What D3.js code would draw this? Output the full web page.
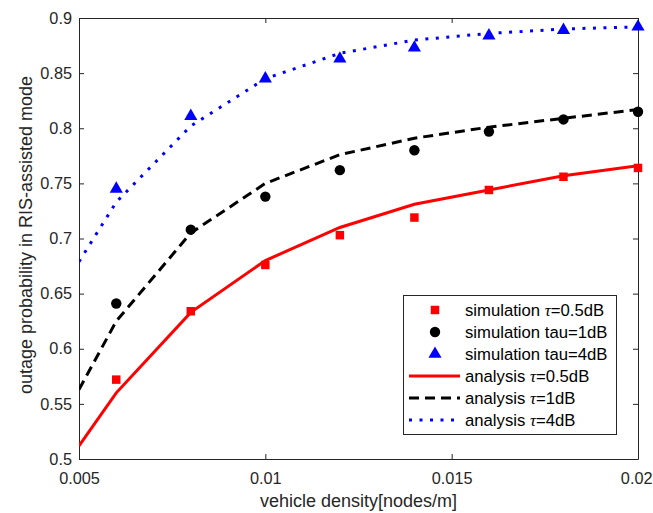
<!DOCTYPE html>
<html><head><meta charset="utf-8">
<script src="https://cdn.jsdelivr.net/npm/d3@7"></script>
<style>body{margin:0;background:#fff}svg{display:block}text{font-family:"Liberation Sans",Arial,sans-serif}</style>
</head><body><svg id="c" width="653" height="513"></svg>
<script>
const xVals = [0.005,0.006,0.008,0.010,0.012,0.014,0.016,0.018,0.020];
const simX = [0.006,0.008,0.010,0.012,0.014,0.016,0.018,0.020];
const simRed = [0.572,0.634,0.676,0.703,0.719,0.744,0.756,0.764];
const simBlack = [0.641,0.708,0.738,0.762,0.780,0.797,0.808,0.815];
const simBlue = [0.745,0.811,0.845,0.863,0.873,0.884,0.889,0.892];
const anaRed = [0.512,0.560,0.633,0.680,0.710,0.731,0.744,0.757,0.766];
const anaBlack = [0.563,0.625,0.705,0.750,0.776,0.791,0.801,0.809,0.817];
const anaBlue = [0.679,0.733,0.802,0.845,0.868,0.880,0.886,0.890,0.892];
const xTicks = [0.005,0.01,0.015,0.02];
const xTickLabels = ["0.005","0.01","0.015","0.02"];
const yTicks = [0.5,0.55,0.6,0.65,0.7,0.75,0.8,0.85,0.9];
const yTickLabels = ["0.5","0.55","0.6","0.65","0.7","0.75","0.8","0.85","0.9"];
const legendLabels = [["simulation ","τ","=0.5dB"],["simulation tau=1dB"],["simulation tau=4dB"],["analysis ","τ","=0.5dB"],["analysis ","τ","=1dB"],["analysis ","τ","=4dB"]];

const L=79,R=638,T=18,B=459;
const svg=d3.select("#c");
const x=d3.scaleLinear().domain([0.005,0.02]).range([L,R]);
const y=d3.scaleLinear().domain([0.5,0.9]).range([B,T]);
const axCol="#262626";
const fs=16.3, fl=18, fleg=16.7;

const gx=svg.append("g").attr("transform",`translate(0,${B})`)
  .call(d3.axisBottom(x).tickValues(xTicks).tickFormat((d,i)=>xTickLabels[i]).tickSizeInner(-5).tickSizeOuter(0).tickPadding(13));
const gy=svg.append("g").attr("transform",`translate(${L},0)`)
  .call(d3.axisLeft(y).tickValues(yTicks).tickFormat((d,i)=>yTickLabels[i]).tickSizeInner(-5).tickSizeOuter(0).tickPadding(7));
const gxt=svg.append("g").attr("transform",`translate(0,${T})`)
  .call(d3.axisTop(x).tickValues(xTicks).tickFormat("").tickSizeInner(-5).tickSizeOuter(0));
const gyr=svg.append("g").attr("transform",`translate(${R},0)`)
  .call(d3.axisRight(y).tickValues(yTicks).tickFormat("").tickSizeInner(-5).tickSizeOuter(0));
[gx,gy,gxt,gyr].forEach(g=>{
  g.attr("font-size",fs).attr("font-family","Liberation Sans, Arial, sans-serif");
  g.selectAll("path").attr("stroke",axCol).attr("stroke-width",1);
  g.selectAll("line").attr("stroke",axCol);
  g.selectAll("text").attr("fill",axCol);
});
gx.selectAll(".tick text").filter(d=>d===0.02).attr("dx",-1.8);

svg.append("text").attr("x",(L+R)/2).attr("y",507).attr("text-anchor","middle").attr("font-size",fl).attr("fill",axCol).text("vehicle density[nodes/m]");
svg.append("text").attr("transform",`translate(32,235) rotate(-90)`).attr("text-anchor","middle").attr("font-size",fl).attr("fill",axCol).text("outage probability in RIS-assisted mode");

svg.append("clipPath").attr("id","clp").append("rect").attr("x",L).attr("y",T-10).attr("width",R-L).attr("height",B-T+10);
const plot=svg.append("g").attr("clip-path","url(#clp)");
const line=d3.line().x((d,i)=>x(xVals[i])).y(d=>y(d));

const styles=[
  {c:"#ff0000",dash:null,w:3},
  {c:"#000000",dash:"10,6",w:3},
  {c:"#0000ff",dash:"3,7.5",w:3}
];
[anaRed,anaBlack,anaBlue].forEach((a,k)=>{
  plot.append("path").datum(a).attr("d",line).attr("fill","none").attr("stroke",styles[k].c)
    .attr("stroke-width",styles[k].w).attr("stroke-dasharray",styles[k].dash);
});

const symSq=d3.symbol().type(d3.symbolSquare).size(72);
const symCi=d3.symbol().type(d3.symbolCircle).size(85);
const symTr=d3.symbol().type(d3.symbolTriangle).size(75);
function marks(data,sym,col){
  svg.append("g").selectAll("path").data(data).join("path")
    .attr("transform",(d,i)=>`translate(${x(simX[i])},${y(d)})`).attr("d",sym).attr("fill",col);
}
marks(simRed,symSq,"#ff0000");
marks(simBlack,symCi,"#000000");
marks(simBlue,symTr,"#0000ff");

const lg=svg.append("g");
lg.append("rect").attr("x",403.5).attr("y",295.5).attr("width",213).attr("height",139).attr("fill","#fff").attr("stroke",axCol).attr("stroke-width",1);
const rowY=d=>310+d*22;
const lsyms=[[symSq,"#ff0000"],[symCi,"#000000"],[symTr,"#0000ff"]];
lsyms.forEach((s,i)=>lg.append("path").attr("transform",`translate(435,${rowY(i)})`).attr("d",s[0]).attr("fill",s[1]));
styles.forEach((s,i)=>lg.append("line").attr("x1",409).attr("x2",460).attr("y1",rowY(i+3)).attr("y2",rowY(i+3))
  .attr("stroke",s.c).attr("stroke-width",s.w).attr("stroke-dasharray",s.dash));
legendLabels.forEach((parts,i)=>{
  const t=lg.append("text").attr("x",465).attr("y",rowY(i)+6).attr("font-size",fleg).attr("fill","#000");
  parts.forEach(p=>{const ts=t.append("tspan").text(p); if(p==="τ") ts.attr("font-style","italic").attr("font-family","Liberation Serif, serif");});
});
</script></body></html>
